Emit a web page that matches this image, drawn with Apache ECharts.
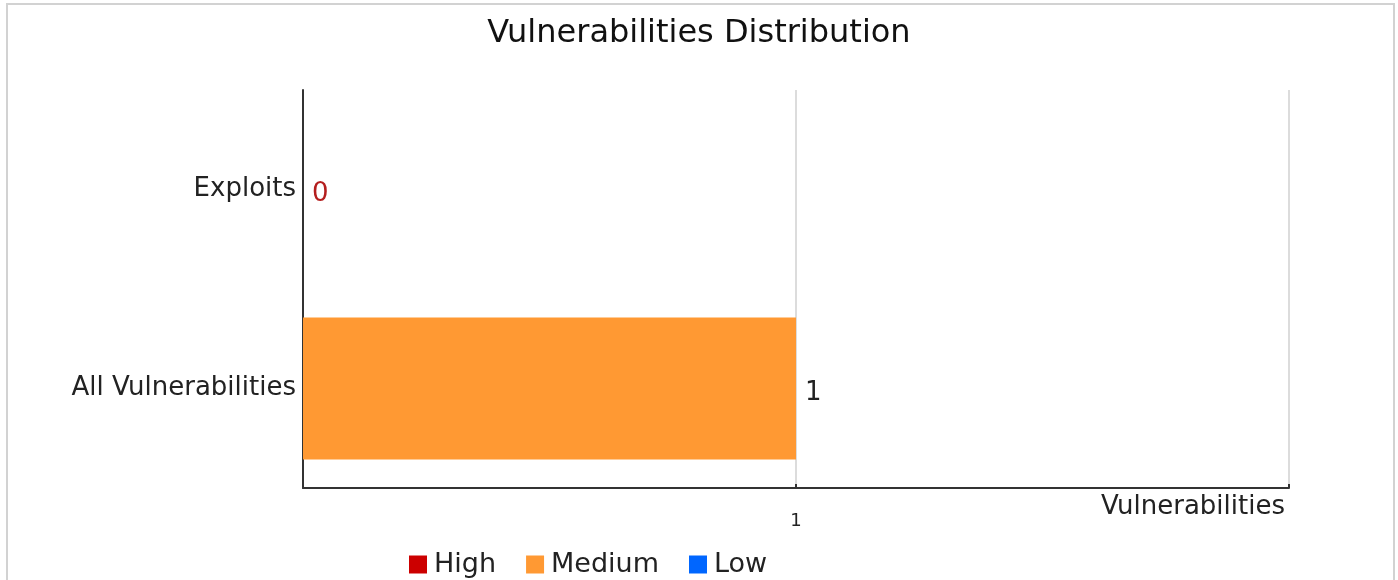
<!DOCTYPE html>
<html>
<head>
<meta charset="utf-8">
<script src="https://cdn.jsdelivr.net/npm/echarts@6/dist/echarts.min.js"></script>
<style>
  html, body { margin: 0; padding: 0; background: #fff; }
  #chart { width: 1398px; height: 580px; }
</style>
</head>
<body>
<div id="chart"></div>
<script>
// Vulnerability counts per category, stacked by severity
const categories = ['All Vulnerabilities', 'Exploits'];
const highValues = [0, 0];
const mediumValues = [1, 0];
const lowValues = [0, 0];
const xTicks = [0, 1, 2];

const FONT = 'DejaVu Sans';
const totals = categories.map((_, i) => highValues[i] + mediumValues[i] + lowValues[i]);

// Total labels: zero totals are shown in red, non-zero in dark text
function totalLabel(i) {
  return {
    show: true,
    position: 'right',
    distance: 9,
    offset: [0, 5],
    fontFamily: FONT,
    fontSize: 26,
    color: totals[i] === 0 ? '#b41e1e' : '#222',
    formatter: () => String(totals[i])
  };
}

const chart = echarts.init(document.getElementById('chart'));
chart.setOption({
  animation: false,
  backgroundColor: '#fff',
  title: {
    text: 'Vulnerabilities Distribution',
    left: 'center',
    top: 13,
    textStyle: { fontFamily: FONT, fontSize: 32, fontWeight: 'normal', color: '#111' }
  },
  graphic: [{
    type: 'rect',
    shape: { x: 7, y: 4, width: 1387, height: 590 },
    style: { fill: 'none', stroke: '#d2d2d2', lineWidth: 2 },
    silent: true
  }],
  legend: {
    left: 404,
    top: 546,
    itemWidth: 18,
    itemHeight: 18,
    itemGap: 30,
    icon: 'rect',
    textStyle: { fontFamily: FONT, fontSize: 27, color: '#222', padding: [0, 0, 0, 2] },
    data: ['High', 'Medium', 'Low']
  },
  grid: { left: 303, right: 109, top: 90, bottom: 92 },
  xAxis: {
    type: 'value',
    min: xTicks[0],
    max: xTicks[xTicks.length - 1],
    interval: 1,
    name: 'Vulnerabilities',
    nameLocation: 'end',
    nameGap: -4,
    nameTextStyle: { fontFamily: FONT, fontSize: 26, color: '#222', align: 'right', verticalAlign: 'top', padding: [6, 0, 0, 0] },
    axisLine: { show: true, lineStyle: { color: '#333', width: 2 } },
    axisTick: { show: true, inside: true, length: 4, lineStyle: { color: '#333', width: 2 } },
    axisLabel: {
      fontFamily: FONT, fontSize: 18, color: '#222', margin: 24,
      formatter: v => (v === 1 ? String(v) : '')
    },
    splitLine: { show: true, lineStyle: { color: '#dcdcdc', width: 2 } }
  },
  yAxis: {
    type: 'category',
    data: categories,
    axisLine: { show: true, lineStyle: { color: '#333', width: 2 } },
    axisTick: { show: false },
    axisLabel: { fontFamily: FONT, fontSize: 26, color: '#222', margin: 7 }
  },
  series: [
    {
      name: 'High', type: 'bar', stack: 'sev', barWidth: 142,
      itemStyle: { color: '#cc0000' },
      data: highValues.map((v, i) => ({ value: v, label: totals[i] === 0 ? totalLabel(i) : { show: false } }))
    },
    {
      name: 'Medium', type: 'bar', stack: 'sev', barWidth: 142,
      itemStyle: { color: '#ff9933' },
      data: mediumValues.map((v, i) => ({ value: v, label: totals[i] !== 0 ? totalLabel(i) : { show: false } }))
    },
    {
      name: 'Low', type: 'bar', stack: 'sev', barWidth: 142,
      itemStyle: { color: '#0066ff' },
      data: lowValues
    }
  ]
});
</script>
</body>
</html>
